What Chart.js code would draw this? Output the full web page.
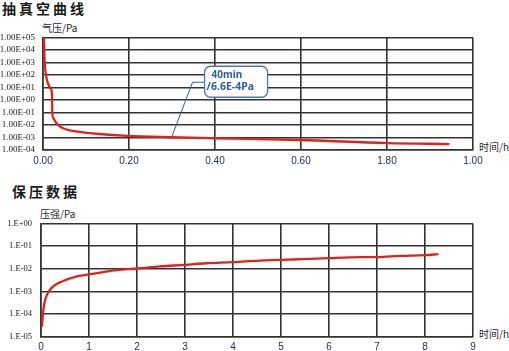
<!DOCTYPE html>
<html><head><meta charset="utf-8">
<script src="https://cdn.jsdelivr.net/npm/chart.js@4/dist/chart.umd.min.js"></script>
<style>
html,body{margin:0;padding:0;background:#fff;width:509px;height:351px;overflow:hidden;position:relative}
canvas{position:absolute;left:0;display:block}
.t{position:absolute;font-family:"Noto Sans CJK SC";white-space:nowrap;color:#2a2a2a;line-height:1}
.h{font-size:14px;font-weight:bold;letter-spacing:3px;color:#1a1a1a}
.a{font-size:10px}
</style></head><body>
<div class="t h" style="left:2px;top:1px">抽真空曲线</div>
<div class="t a" style="left:42px;top:23px">气压/Pa</div>
<div class="t a" style="left:479px;top:142px">时间/h</div>
<div class="t h" style="left:12px;top:184px">保压数据</div>
<div class="t a" style="left:40px;top:209px">压强/Pa</div>
<div class="t a" style="left:479px;top:329px">时间/h</div>
<canvas id="c1" width="509" height="170" style="top:0"></canvas>
<canvas id="c2" width="509" height="171" style="top:180px"></canvas>
<script>
// ---- top chart: pump-down curve ----
const vacX = [0.0023,0.003,0.004,0.007,0.0116,0.018,0.021,0.0216,0.025,0.031,0.043,0.066,0.097,0.13,0.196,0.297,0.398,0.6,0.8,0.945];
const vacY = [1e5,1e4,1e3,100,21,8,2.5,0.1,0.032,0.014,0.0063,0.0035,0.0025,0.0019,0.00135,0.00105,0.00087,0.00063,0.00036,0.0003];
const vacXTicks = [0,0.2,0.4,0.6,0.8,1.0];
const vacXLabels = ['0.00','0.20','0.40','0.60','1.80','1.00'];
const vacYTicks = [1e-4,1e-3,1e-2,1e-1,1e0,1e1,1e2,1e3,1e4,1e5];
const vacYLabels = ['1.00E-04','1.00E-03','1.00E-02','1.00E-01','1.00E+00','1.00E+01','1.00E+02','1.00E+03','1.00E+04','1.00E+05'];
const noteText = ['40min','/6.6E-4Pa'];
const noteAt = [0.299, 0.00105];

// ---- bottom chart: pressure hold ----
const holdX = [0.02,0.035,0.07,0.14,0.24,0.45,0.73,1.0,1.29,1.57,2.0,2.48,3.0,3.45,4.0,4.56,5.0,5.4,6.0,6.44,7.0,7.49,8.0,8.28];
const holdY = [2.75e-5,7.6e-5,2.95e-4,8.1e-4,1.58e-3,2.8e-3,4.5e-3,5.6e-3,7.1e-3,8.7e-3,1.02e-2,1.26e-2,1.48e-2,1.74e-2,1.95e-2,2.3e-2,2.45e-2,2.63e-2,2.95e-2,3.2e-2,3.25e-2,3.7e-2,3.98e-2,4.4e-2];
const holdXTicks = [0,1,2,3,4,5,6,7,8,9];
const holdXLabels = ['0','1','2','3','4','5','6','7','8','9'];
const holdYTicks = [1e-5,1e-4,1e-3,1e-2,1e-1,1e0];
const holdYLabels = ['1.E-05','1.E-04','1.E-03','1.E-02','1.E-01','1.E+00'];

const GRID = '#363232';
const RED = '#e3211c';
const NAVY = '#1d2a48';

function makeChart(id, xs, ys, xTicks, xLabels, yTicks, yLabels, geo, plugins) {
  return new Chart(document.getElementById(id), {
    type: 'line',
    data: { datasets: [{
      data: xs.map((x, i) => ({x: x, y: ys[i]})),
      borderColor: RED, borderWidth: 2.3, pointRadius: 0,
      cubicInterpolationMode: 'monotone', fill: false
    }]},
    options: {
      responsive: false, animation: false, devicePixelRatio: 1,
      layout: { padding: { left: 0, top: geo.top, right: geo.right, bottom: 0 } },
      plugins: { legend: { display: false }, tooltip: { enabled: false } },
      scales: {
        x: {
          type: 'linear', min: xTicks[0], max: xTicks[xTicks.length - 1],
          afterBuildTicks: s => { s.ticks = xTicks.map(v => ({value: v})); },
          afterFit: s => { s.height = geo.xh; },
          grid: { color: GRID, lineWidth: 1.6, drawTicks: false },
          border: { color: GRID, width: 1.6 },
          ticks: { color: NAVY, padding: geo.xpad, maxRotation: 0, autoSkip: false,
                   font: { family: '"Liberation Sans"', size: 10 },
                   callback: (v, i) => xLabels[i] }
        },
        y: {
          type: 'logarithmic', min: yTicks[0], max: yTicks[yTicks.length - 1],
          afterBuildTicks: s => { s.ticks = yTicks.map(v => ({value: v})); },
          afterFit: s => { s.width = geo.yw; },
          grid: { color: GRID, lineWidth: 1.6, drawTicks: false },
          border: { color: GRID, width: 1.6 },
          ticks: { color: '#1a1a1a', padding: geo.ypad, autoSkip: false,
                   font: { family: '"Liberation Sans Narrow"', size: geo.yfs },
                   callback: (v, i) => yLabels[i] }
        }
      }
    },
    plugins: plugins || []
  });
}

const notePlugin = {
  id: 'note',
  afterDatasetsDraw(chart) {
    const ctx = chart.ctx;
    const px = chart.scales.x.getPixelForValue(noteAt[0]);
    const py = chart.scales.y.getPixelForValue(noteAt[1]);
    const ex = px + 21, ey = py - 55;
    const bx = ex + 12, by = ey - 16, bw = 63, bh = 31;
    ctx.save();
    ctx.strokeStyle = '#2f5ea8'; ctx.lineWidth = 1;
    ctx.beginPath(); ctx.moveTo(px, py); ctx.lineTo(ex, ey); ctx.lineTo(bx, ey); ctx.stroke();
    ctx.fillStyle = '#ffffff'; ctx.strokeStyle = '#4a78bf'; ctx.lineWidth = 1.3;
    ctx.beginPath(); ctx.roundRect(bx, by, bw, bh, 6); ctx.fill(); ctx.stroke();
    ctx.fillStyle = '#2f5ea8';
    ctx.font = 'bold 10px "Noto Sans"';
    ctx.textBaseline = 'middle'; ctx.textAlign = 'left';
    ctx.fillText(noteText[0], bx + 7, by + 9);
    ctx.font = 'bold 10.5px "Noto Sans"';
    ctx.fillText(noteText[1], bx + 2, by + 20.5);
    ctx.restore();
  }
};

makeChart('c1', vacX, vacY, vacXTicks, vacXLabels, vacYTicks, vacYLabels,
  { top: 37.5, right: 36, xh: 20, yw: 43, xpad: 5, ypad: 8, yfs: 9 }, [notePlugin]);
makeChart('c2', holdX, holdY, holdXTicks, holdXLabels, holdYTicks, holdYLabels,
  { top: 43.5, right: 36, xh: 14.5, yw: 41, xpad: 5, ypad: 9, yfs: 8.5 });
</script>
</body></html>
